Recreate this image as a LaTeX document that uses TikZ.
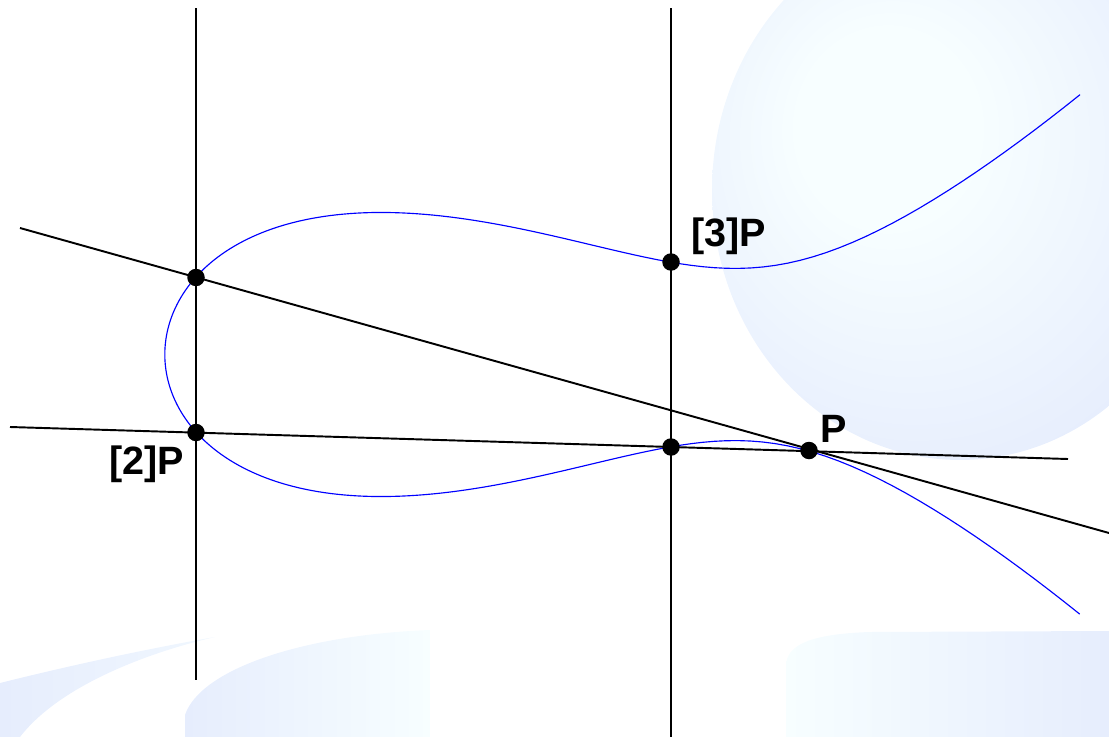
\documentclass[tikz,border=0pt]{standalone}
\usepackage{fontspec}
\setmainfont{Liberation Sans}
\definecolor{cw}{RGB}{247,254,255}
\definecolor{bb}{RGB}{230,237,253}
\pgfdeclareradialshading[cw,bb]{bubble}{\pgfpoint{-9bp}{7bp}}{color(0bp)=(cw); color(9bp)=(cw); color(31bp)=(bb); color(50bp)=(bb)}
\begin{document}
\begin{tikzpicture}[x=0.02cm, y=-0.02cm,
  axisline/.style={black, line width=1.1pt},
  ecurve/.style={blue, line width=0.65pt, line join=round},
  dot/.style={circle, fill=black, inner sep=0pt, minimum size=0.35cm},
  lbl/.style={font=\fontsize{22.5}{26}\selectfont\bfseries, inner sep=0pt},
  declare function={ecw(\u)=sqrt(max(0,0.05767*(\u)*(\u)*(\u)+0.01191*(\u)*(\u)-0.5404*(\u)+1.34201));}
]
\useasboundingbox (0,0) rectangle (1109,737);
% background bubbles
\begin{scope}
\clip (0,0) rectangle (1109,737);
\shade[shading=bubble] (960,190) ellipse[x radius=4.96cm, y radius=5.4cm];
\shade[left color=bb, right color=cw!60!bb]
  (0,683) .. controls (60,668) and (140,650) .. (215,637)
  .. controls (150,652) and (60,685) .. (20,737) -- (0,737) -- cycle;
\shade[left color=bb, right color=cw]
  (185,737) -- (185,715) .. controls (200,670) and (300,635) .. (430,630)
  -- (430,737) -- cycle;
\shade[left color=cw, middle color=bb!80!cw, right color=bb]
  (786,737) -- (786,665) .. controls (787,645) and (810,634) .. (870,632)
  -- (1109,631) -- (1109,737) -- cycle;
\end{scope}
% end points of the lines
\coordinate (v1t) at (196,8);
\coordinate (v1b) at (196,680);
\coordinate (v2t) at (671,8);
\coordinate (v2b) at (671,737);
\coordinate (ta) at (20,228);
\coordinate (tb) at (1109,533);
\coordinate (ca) at (10,427);
\coordinate (cb) at (1068,459);
% elliptic curve
\draw[ecurve] plot[domain=-3.02514:3.02514, samples=241, variable=\s]
  ({565+100*(\s*\s-4.0015)}, {354.5+100*sign(\s)*ecw(\s*\s-4.0015)});
% lines
\draw[axisline] (v1t) -- (v1b);
\draw[axisline] (v2t) -- (v2b);
\draw[axisline] (ta) -- (tb);
\draw[axisline] (ca) -- (cb);
% points
\node[dot] (m2P) at (196,277.5) {};
\node[dot] (P2) at (196,432.5) {};
\node[dot] (m3P) at (671,447) {};
\node[dot] (P3) at (671,262) {};
\node[dot] (P) at (809,450.5) {};
% labels
\node[lbl] (l3) at (729,236) {[3]P};
\node[lbl] (l2) at (147,464) {[2]P};
\node[lbl] (lP) at (834,429) {P};
\end{tikzpicture}
\end{document}
